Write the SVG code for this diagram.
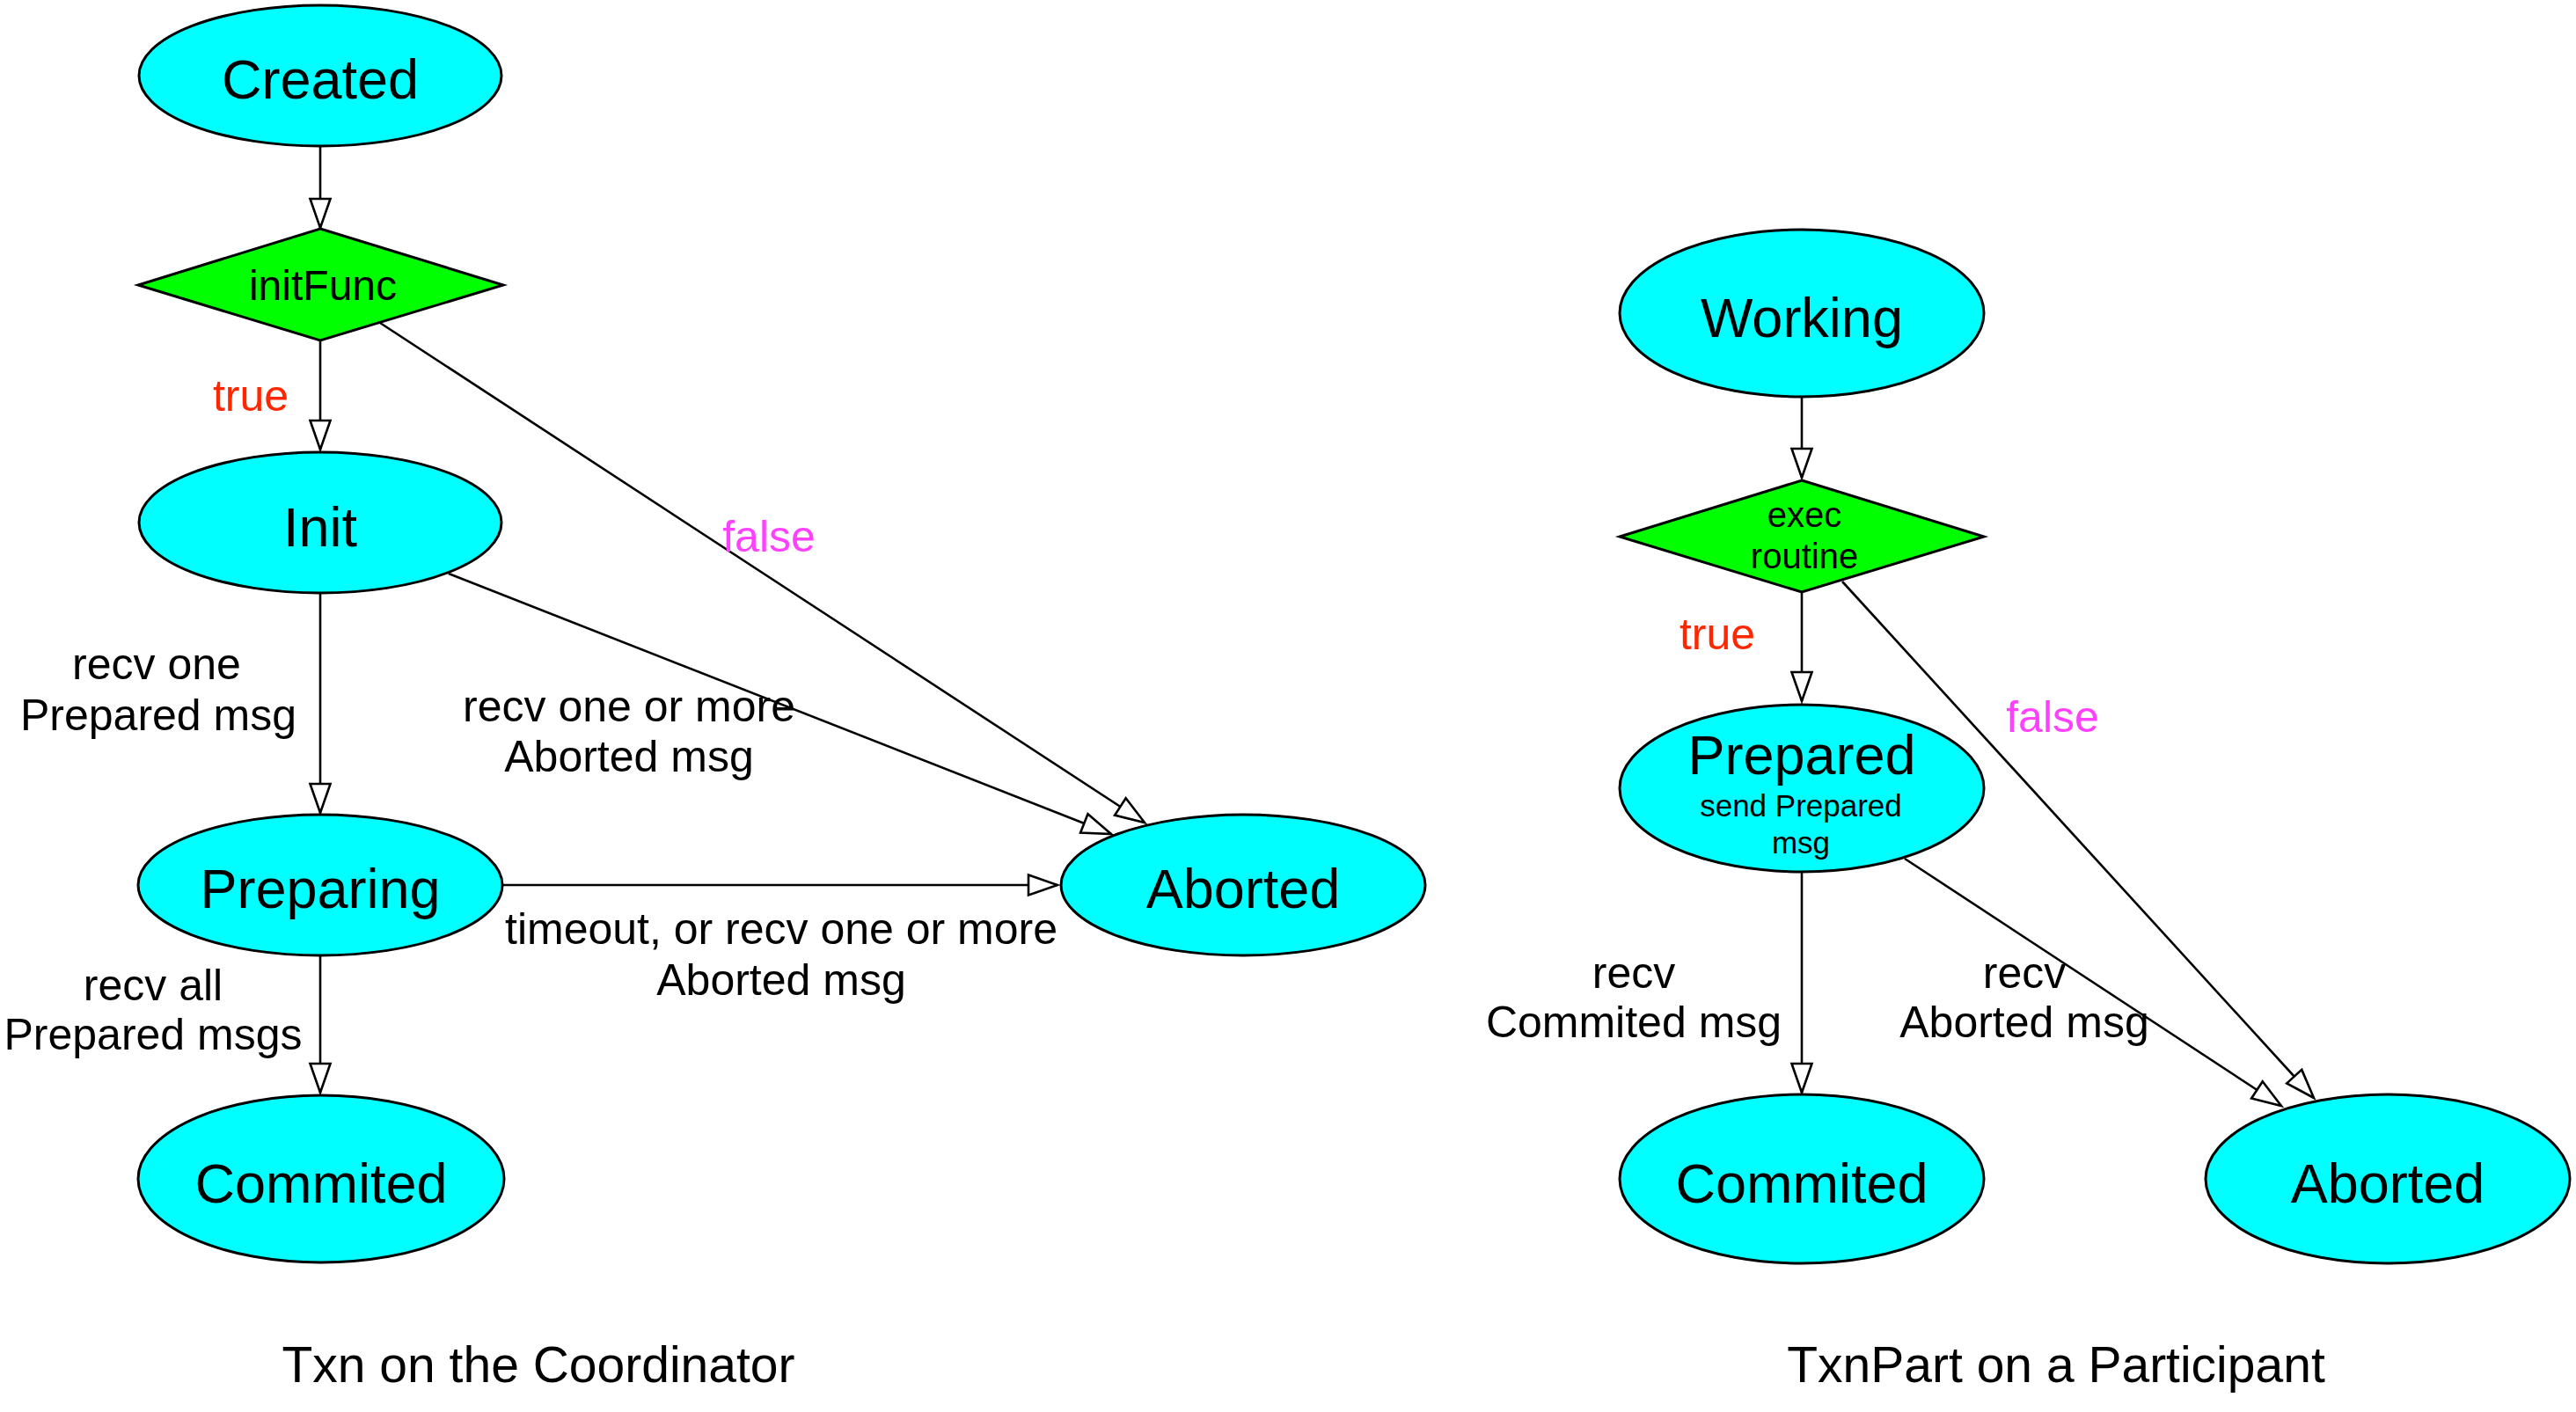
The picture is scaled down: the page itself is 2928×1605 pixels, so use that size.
<svg xmlns="http://www.w3.org/2000/svg" width="2928" height="1605" viewBox="0 0 2928 1605">
<style>
  text { font-family: "Liberation Sans", Arial, Helvetica, sans-serif; fill: #000; text-anchor: middle; }
  .state { fill: #00ffff; stroke: #000; stroke-width: 3; }
  .dec { fill: #00ff00; stroke: #000; stroke-width: 3; }
  .nl { font-size: 63px; }
  .dl { font-size: 48px; }
  .dl2 { font-size: 40px; }
  .sub { font-size: 35px; }
  .el { font-size: 50px; }
  .t { fill: #ff2600; }
  .f { fill: #ff40ff; }
  .title { font-size: 57px; }
  .edge { fill: none; stroke: #000; stroke-width: 2.6; marker-end: url(#arr); }
</style>
<defs>
  <marker id="arr" markerUnits="userSpaceOnUse" viewBox="-3 -3 39 29" markerWidth="39" markerHeight="29" refX="33" refY="11.5" orient="auto">
    <path d="M0,0 L33,11.5 L0,23 Z" fill="#fff" stroke="#000" stroke-width="2.6"/>
  </marker>
</defs>
<rect width="2928" height="1605" fill="#fff"/>

<g id="edges">
  <path class="edge" d="M364,166 L364,259"/>
  <path class="edge" d="M364,387 L364,511"/>
  <path class="edge" d="M364,674 L364,924"/>
  <path class="edge" d="M364,1086 L364,1242"/>
  <path class="edge" d="M510,652 L1263,948"/>
  <path class="edge" d="M432,367 L1301,935"/>
  <path class="edge" d="M571,1006 L1202,1006"/>
  <path class="edge" d="M2048,451 L2048,543"/>
  <path class="edge" d="M2048,673 L2048,797"/>
  <path class="edge" d="M2048,991 L2048,1242"/>
  <path class="edge" d="M2094,661 L2630,1248"/>
  <path class="edge" d="M2165,976 L2593,1257"/>
</g>

<g id="edge-labels">
  <text class="el t" x="285" y="467">true</text>
  <text class="el f" x="874" y="627">false</text>
  <text class="el" x="178" y="772">recv one</text>
  <text class="el" x="180" y="830">Prepared msg</text>
  <text class="el" x="715" y="820">recv one or more</text>
  <text class="el" x="715" y="877">Aborted msg</text>
  <text class="el" x="888" y="1073">timeout, or recv one or more</text>
  <text class="el" x="888" y="1131">Aborted msg</text>
  <text class="el" x="174" y="1137">recv all</text>
  <text class="el" x="174" y="1193">Prepared msgs</text>
  <text class="el t" x="1952" y="738">true</text>
  <text class="el f" x="2333" y="832">false</text>
  <text class="el" x="1857" y="1123">recv</text>
  <text class="el" x="1857" y="1179">Commited msg</text>
  <text class="el" x="2301" y="1123">recv</text>
  <text class="el" x="2301" y="1179">Aborted msg</text>
</g>

<g id="coord-created">
  <ellipse class="state" cx="364" cy="86" rx="206" ry="80"/>
  <text class="nl" x="364" y="112">Created</text>
</g>
<g id="coord-initFunc">
  <polygon class="dec" points="364,260 572,324 364,387 157,324"/>
  <text class="dl" x="367" y="341">initFunc</text>
</g>
<g id="coord-init">
  <ellipse class="state" cx="364" cy="594" rx="206" ry="80"/>
  <text class="nl" x="364" y="621">Init</text>
</g>
<g id="coord-preparing">
  <ellipse class="state" cx="364" cy="1006" rx="207" ry="80"/>
  <text class="nl" x="364" y="1032">Preparing</text>
</g>
<g id="coord-aborted">
  <ellipse class="state" cx="1413" cy="1006" rx="207" ry="80"/>
  <text class="nl" x="1413" y="1032">Aborted</text>
</g>
<g id="coord-commited">
  <ellipse class="state" cx="365" cy="1340" rx="208" ry="95"/>
  <text class="nl" x="365" y="1367">Commited</text>
</g>

<g id="part-working">
  <ellipse class="state" cx="2048" cy="356" rx="207" ry="95"/>
  <text class="nl" x="2048" y="383">Working</text>
</g>
<g id="part-exec">
  <polygon class="dec" points="2048,546 2255,610 2048,673 1841,610"/>
  <text class="dl2" x="2051" y="599">exec</text>
  <text class="dl2" x="2051" y="646">routine</text>
</g>
<g id="part-prepared">
  <ellipse class="state" cx="2048" cy="896" rx="207" ry="95"/>
  <text class="nl" x="2048" y="880">Prepared</text>
  <text class="sub" x="2047" y="928">send Prepared</text>
  <text class="sub" x="2047" y="970">msg</text>
</g>
<g id="part-commited">
  <ellipse class="state" cx="2048" cy="1340" rx="207" ry="96"/>
  <text class="nl" x="2048" y="1367">Commited</text>
</g>
<g id="part-aborted">
  <ellipse class="state" cx="2714" cy="1340" rx="207" ry="96"/>
  <text class="nl" x="2714" y="1367">Aborted</text>
</g>

<g id="titles">
  <text class="title" x="612" y="1571">Txn on the Coordinator</text>
  <text class="title" x="2337" y="1571">TxnPart on a Participant</text>
</g>
</svg>
